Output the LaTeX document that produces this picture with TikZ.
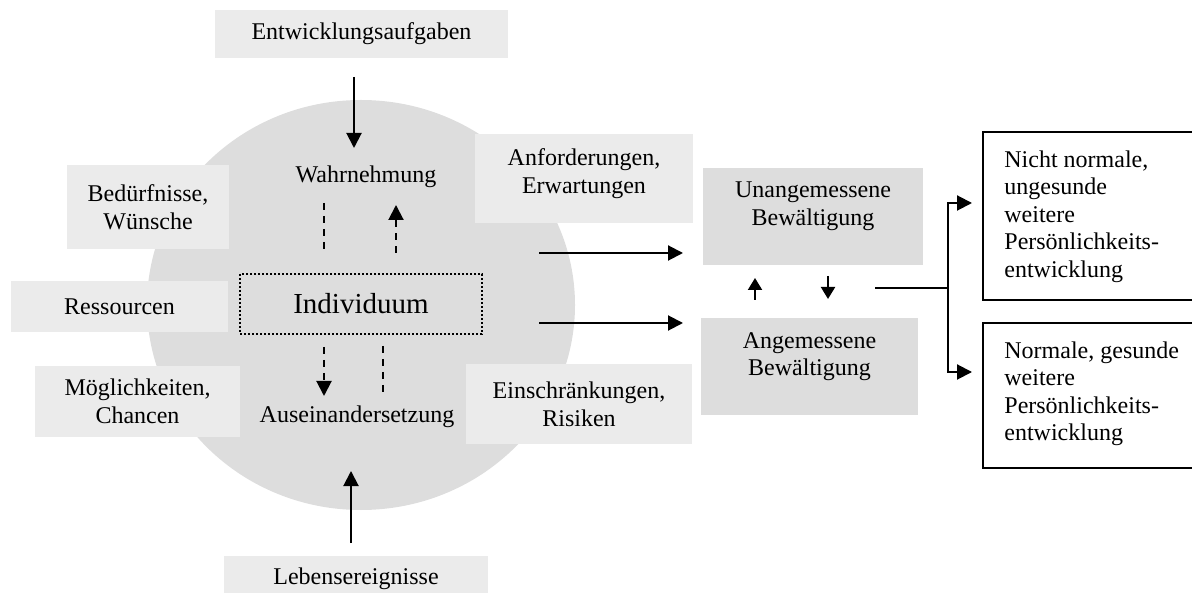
\documentclass[tikz,border=0pt]{standalone}
\usepackage{fontspec}
\setmainfont{Liberation Serif}
\usetikzlibrary{arrows.meta}
\definecolor{boxlight}{HTML}{EBEBEB}
\definecolor{boxdark}{HTML}{DDDDDD}
\definecolor{discfill}{HTML}{DDDDDD}
\begin{document}
\begin{tikzpicture}[x=0.5pt,y=-0.5pt,
  every node/.style={font=\fontsize{12}{13.8}\selectfont, inner sep=0pt},
  lbox/.style={fill=boxlight, align=center},
  dbox/.style={fill=boxdark, align=center},
  obox/.style={draw=black, line width=1pt, fill=white},
  rtxt/.style={align=left, anchor=north west},
  arr/.style={line width=1pt, -{Triangle[length=7.5pt,width=7.5pt]}},
  sarr/.style={line width=1pt, -{Triangle[length=6pt,width=7pt]}},
  plainline/.style={line width=1pt},
  dashline/.style={line width=1pt, dash pattern=on 3.5pt off 3pt},
  dasharr/.style={dashline, -{Triangle[length=7.5pt,width=7.5pt]}}
]
\useasboundingbox (0,0) rectangle (1192,603);

% the individual's sphere
\fill[discfill] (361,305) ellipse [x radius=214, y radius=205];

% outer influence boxes
\node[lbox, minimum width=146.5pt, minimum height=24pt] (ent) at (361.5,34) {Entwicklungsaufgaben};
\node[lbox, minimum width=132pt, minimum height=18.5pt] (leb) at (356,574.5) {};
\node at ([yshift=-2pt]leb.center) {Lebensereignisse};

\node[lbox, minimum width=81pt, minimum height=42pt] (bed) at (148,207) {Bedürfnisse,\\Wünsche};
\node[lbox, minimum width=108.5pt, minimum height=25.5pt] (res) at (119.5,306.5) {Ressourcen};
\node[lbox, minimum width=102.5pt, minimum height=35.5pt] (moe) at (137.5,401.5) {Möglichkeiten,\\Chancen};

\node[lbox, minimum width=109pt, minimum height=44.5pt] (anf) at (584,178.5) {};
\node[align=center] at ([yshift=2.5pt]anf.center) {Anforderungen,\\Erwartungen};
\node[lbox, minimum width=113pt, minimum height=40pt] (ein) at (579,404) {Einschränkungen,\\Risiken};

% inner labels
\node (wah) at (366,177) {Wahrnehmung};
\node (aus) at (357,417) {Auseinandersetzung};
\node[draw=black, line width=1pt, dash pattern=on 1pt off 1pt,
      minimum width=121pt, minimum height=30pt,
      font=\fontsize{14.5}{16}\selectfont] (ind) at (361,304) {Individuum};

% coping outcomes
\node[dbox, minimum width=110pt, minimum height=48.5pt] (una) at (813,216.5) {};
\node[align=center] at ([yshift=5pt]una.center) {Unangemessene\\Bewältigung};
\node[dbox, minimum width=108.5pt, minimum height=48.5pt] (ang) at (809.5,366.5) {};
\node[align=center] at ([yshift=5pt]ang.center) {Angemessene\\Bewältigung};

% personality development (boxes run past the right edge)
\node[obox, minimum width=110pt, minimum height=84pt] (nn) at (1093,216) {};
\node[rtxt] (nnt) at (1004,150) {Nicht normale,\\ungesunde\\weitere\\Persönlichkeits-\\entwicklung};
\node[obox, minimum width=110pt, minimum height=72.5pt] (no) at (1093,395.5) {};
\node[rtxt] (not) at (1004,341) {Normale, gesunde\\weitere\\Persönlichkeits-\\entwicklung};

% connector end points
\coordinate (e1) at (354,77);   \coordinate (e2) at (354,148);
\coordinate (l1) at (351,543);  \coordinate (l2) at (351,471);
\coordinate (w1) at (324,203);  \coordinate (w2) at (324,253);
\coordinate (w3) at (396,253);  \coordinate (w4) at (396,205);
\coordinate (a1) at (324,347);  \coordinate (a2) at (324,396);
\coordinate (a3) at (383,346);  \coordinate (a4) at (383,395);
\coordinate (r1) at (539,253);  \coordinate (r2) at (683,253);
\coordinate (r3) at (539,323);  \coordinate (r4) at (683,323);
\coordinate (s1) at (755,300);  \coordinate (s2) at (755,278);
\coordinate (s3) at (828,276);  \coordinate (s4) at (828,299);
\coordinate (b0) at (875,288);  \coordinate (bj) at (948,288);
\coordinate (bt) at (972,203);  \coordinate (bb) at (972,372);

% connectors
\draw[arr] (e1) -- (e2);
\draw[arr] (l1) -- (l2);
\draw[dashline] (w1) -- (w2);
\draw[dasharr] (w3) -- (w4);
\draw[dasharr] (a1) -- (a2);
\draw[dashline] (a3) -- (a4);
\draw[arr] (r1) -- (r2);
\draw[arr] (r3) -- (r4);
\draw[sarr] (s1) -- (s2);
\draw[sarr] (s3) -- (s4);
\draw[plainline] (b0) -- (bj);
\draw[arr] (bj) |- (bt);
\draw[arr] (bj) |- (bb);
\end{tikzpicture}
\end{document}
